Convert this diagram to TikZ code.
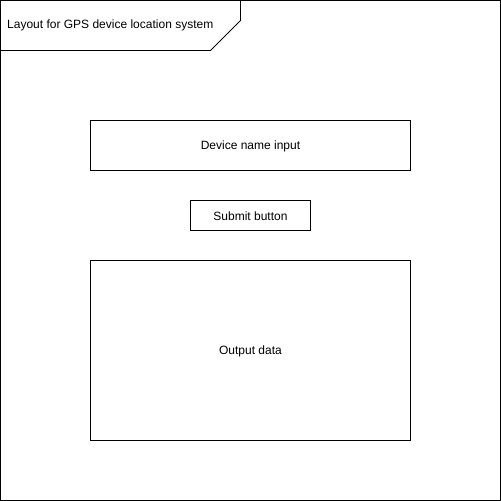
\documentclass[tikz,border=0pt]{standalone}
\usepackage{fontspec}
\setmainfont{Liberation Sans}
\begin{document}
\begin{tikzpicture}[x=1pt,y=-1pt,
  box/.style={draw=black,line width=0.8pt,fill=white},
  lbl/.style={font=\fontsize{12}{14}\selectfont,text=black,inner sep=0pt}]
\useasboundingbox (0,0) rectangle (501,501);
\draw[line width=0.8pt] (0.5,0.5) rectangle (500.5,500.5);
\draw[line width=0.8pt] (0.5,0.5) -- (240.5,0.5) -- (240.5,20.5) -- (210.5,50.5) -- (0.5,50.5);
\node[lbl,anchor=west] (title) at (7,25) {Layout for GPS device location system};
\draw[box] (90.5,120.5) rectangle (410.5,170.5);
\node[lbl] (dev) at (250.5,146) {Device name input};
\draw[box] (190.5,200.5) rectangle (310.5,230.5);
\node[lbl] (sub) at (250.5,216) {Submit button};
\draw[box] (90.5,260.5) rectangle (410.5,440.5);
\node[lbl] (out) at (250.5,351) {Output data};
\end{tikzpicture}
\end{document}
